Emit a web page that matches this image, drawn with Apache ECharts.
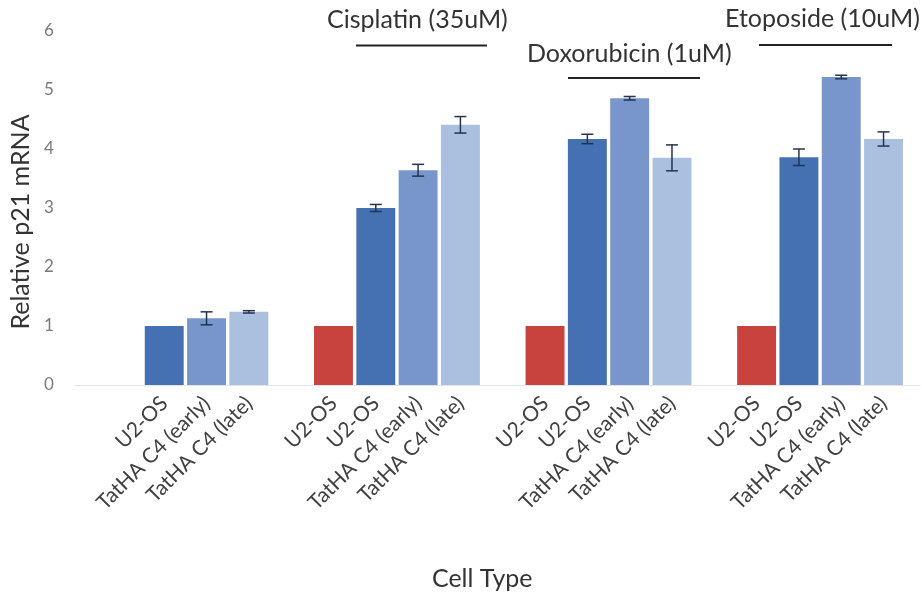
<!DOCTYPE html>
<html>
<head>
<meta charset="utf-8">
<script src="https://cdn.jsdelivr.net/npm/echarts@6/dist/echarts.min.js"></script>
<style>
  html, body { margin: 0; padding: 0; background: #ffffff; }
  #chart { width: 922px; height: 598px; }
</style>
</head>
<body>
<div id="chart"></div>
<script>
// Cell lines along the x axis; empty strings are spacer slots between treatment groups
const categories = [
  '', 'U2-OS', 'TatHA C4 (early)', 'TatHA C4 (late)',
  '', 'U2-OS', 'U2-OS', 'TatHA C4 (early)', 'TatHA C4 (late)',
  '', 'U2-OS', 'U2-OS', 'TatHA C4 (early)', 'TatHA C4 (late)',
  '', 'U2-OS', 'U2-OS', 'TatHA C4 (early)', 'TatHA C4 (late)'
];
// Relative p21 mRNA (mean) for each slot
const values = [
  null, 1.00, 1.13, 1.24,
  null, 1.00, 3.00, 3.64, 4.41,
  null, 1.00, 4.17, 4.86, 3.85,
  null, 1.00, 3.86, 5.22, 4.17
];
// Error (± half-range) for each slot
const errors = [
  null, 0, 0.11, 0.02,
  null, 0, 0.06, 0.10, 0.14,
  null, 0, 0.08, 0.03, 0.22,
  null, 0, 0.14, 0.03, 0.12
];
// Bar role per slot: reference sample, parental line, early and late clones
const roles = [
  '', 'parent', 'early', 'late',
  '', 'reference', 'parent', 'early', 'late',
  '', 'reference', 'parent', 'early', 'late',
  '', 'reference', 'parent', 'early', 'late'
];
// Treatment labels over each group
const treatments = ['Cisplatin (35uM)', 'Doxorubicin (1uM)', 'Etoposide (10uM)'];
const yTicks = [0, 1, 2, 3, 4, 5, 6];

const roleColors = {
  reference: '#c8423e',
  parent: '#4571b2',
  early: '#7896cb',
  late: '#abbfdf'
};

const FONT = 'Lato, "Open Sans", sans-serif';
const TITLE_FONT = '25px ' + FONT;

const barData = values.map((v, i) => v === null ? null : ({
  value: v,
  itemStyle: { color: roleColors[roles[i]] }
}));

const errData = [];
values.forEach((v, i) => {
  if (v !== null && errors[i] > 0) errData.push([i, v - errors[i], v + errors[i]]);
});

const chart = echarts.init(document.getElementById('chart'), null, { renderer: 'canvas' });

chart.setOption({
  animation: false,
  backgroundColor: '#ffffff',
  grid: [
    { left: 100.5, right: 17.3, top: 31, bottom: 213, containLabel: false },
    { left: 75, right: 2, top: 31, bottom: 213, containLabel: false }
  ],
  xAxis: [
    {
      type: 'category',
      gridIndex: 0,
      data: categories,
      axisLine: { show: false },
      axisTick: { show: false },
      axisLabel: {
        interval: 0,
        rotate: 45,
        margin: 15,
        color: '#404040',
        fontFamily: FONT,
        fontSize: 21
      },
      name: 'Cell Type',
      nameLocation: 'middle',
      nameGap: 181,
      nameTextStyle: {
        color: '#333333',
        fontFamily: FONT,
        fontSize: 25,
        padding: [0, 41, 0, 0]
      }
    },
    {
      type: 'value',
      gridIndex: 1,
      min: 0,
      max: 1,
      axisLine: { show: true, lineStyle: { color: '#e4e4e4', width: 1 } },
      axisTick: { show: false },
      axisLabel: { show: false },
      splitLine: { show: false }
    }
  ],
  yAxis: [
    {
      type: 'value',
      gridIndex: 0,
      min: yTicks[0],
      max: yTicks[yTicks.length - 1],
      interval: 1,
      axisLine: { show: false },
      axisTick: { show: false },
      splitLine: { show: false },
      axisLabel: {
        margin: 47,
        color: '#7a7a7a',
        fontFamily: FONT,
        fontSize: 17
      },
      name: 'Relative p21 mRNA',
      nameLocation: 'middle',
      nameGap: 50,
      nameTextStyle: {
        color: '#333333',
        fontFamily: FONT,
        fontSize: 25,
        padding: [0, 28, 0, 0]
      }
    },
    {
      type: 'value',
      gridIndex: 1,
      min: 0,
      max: 1,
      show: false
    }
  ],
  series: [
    {
      type: 'bar',
      xAxisIndex: 0,
      yAxisIndex: 0,
      data: barData,
      barCategoryGap: '8%',
      itemStyle: { borderWidth: 0 }
    },
    {
      type: 'custom',
      xAxisIndex: 0,
      yAxisIndex: 0,
      data: errData,
      z: 5,
      renderItem: function (params, api) {
        const x = api.value(0);
        const lo = api.coord([x, api.value(1)]);
        const hi = api.coord([x, api.value(2)]);
        const cap = 6;
        const style = { stroke: '#24344f', lineWidth: 1.5 };
        return {
          type: 'group',
          children: [
            { type: 'line', shape: { x1: lo[0], y1: lo[1], x2: hi[0], y2: hi[1] }, style: style },
            { type: 'line', shape: { x1: hi[0] - cap, y1: hi[1], x2: hi[0] + cap, y2: hi[1] }, style: style },
            { type: 'line', shape: { x1: lo[0] - cap, y1: lo[1], x2: lo[0] + cap, y2: lo[1] }, style: style }
          ]
        };
      }
    }
  ],
  graphic: [
    { type: 'text', left: 327, top: 7, style: { text: treatments[0], fill: '#333333', font: TITLE_FONT } },
    { type: 'line', shape: { x1: 356, y1: 45.5, x2: 487, y2: 45.5 }, style: { stroke: '#222222', lineWidth: 2 } },
    { type: 'text', left: 527, top: 41, style: { text: treatments[1], fill: '#333333', font: TITLE_FONT } },
    { type: 'line', shape: { x1: 568, y1: 78, x2: 700, y2: 78 }, style: { stroke: '#222222', lineWidth: 2 } },
    { type: 'text', left: 725, top: 6, style: { text: treatments[2], fill: '#333333', font: TITLE_FONT } },
    { type: 'line', shape: { x1: 759, y1: 45, x2: 892, y2: 45 }, style: { stroke: '#222222', lineWidth: 2 } }
  ]
});
</script>
</body>
</html>
